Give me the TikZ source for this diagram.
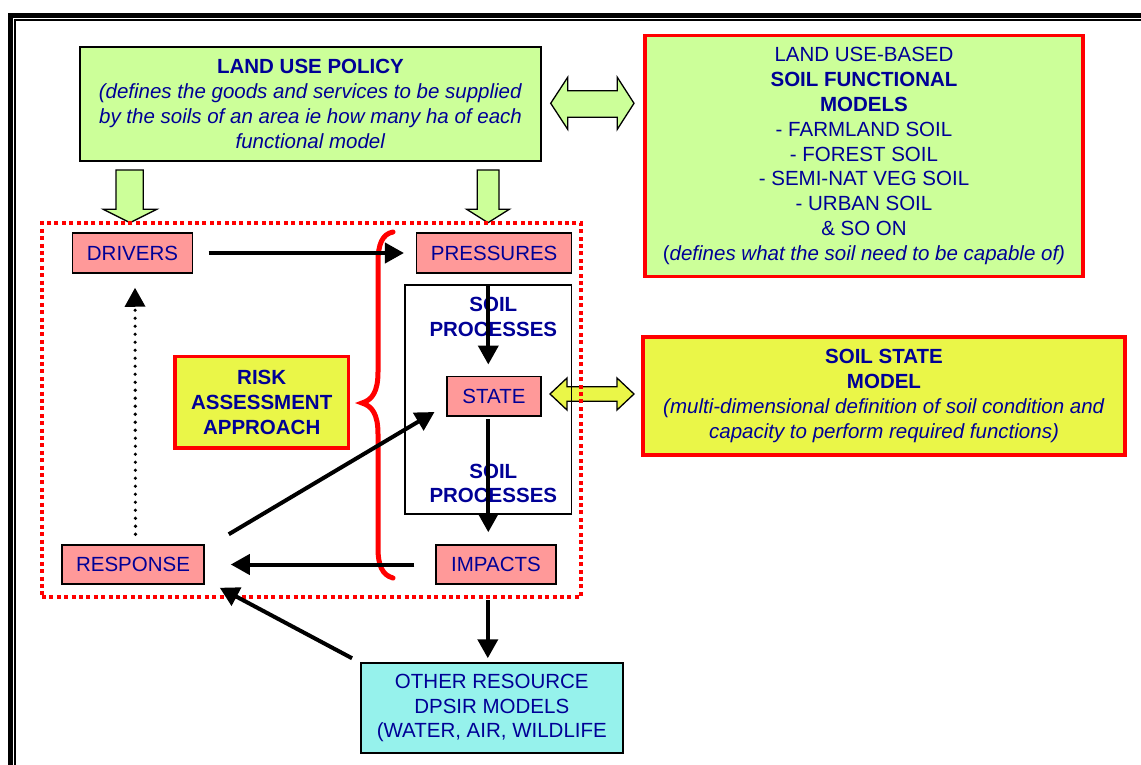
\documentclass[tikz,border=0pt]{standalone}
\usepackage{fontspec}
\setmainfont{Liberation Sans}
\usetikzlibrary{arrows.meta,calc}
\definecolor{txtblue}{RGB}{0,0,150}
\definecolor{limegreen}{RGB}{204,255,153}
\definecolor{pinkbox}{RGB}{255,153,153}
\definecolor{yellowbox}{RGB}{234,246,72}
\definecolor{cyanbox}{RGB}{150,242,236}

\begin{document}
\begin{tikzpicture}[x=1pt,y=-1pt,
  font=\fontsize{20.5}{24.8}\selectfont, text=txtblue,
  boldtext/.style={font=\fontsize{20.5}{24.8}\selectfont\bfseries},
  plainbox/.style={draw=black, line width=1.5pt, inner sep=0pt, align=center},
  dpsir/.style={plainbox, fill=pinkbox},
  redbox/.style={draw=red, line width=3.5pt, inner sep=0pt, align=center},
  arr/.style={line width=4pt, -{Triangle[width=20pt,length=19pt]}},
  dotarr/.style={line width=3.6pt, line cap=round, dash pattern=on 0pt off 8pt,
                 -{Triangle[width=20pt,length=19pt]}},
  blockarrow/.style={draw=black, line width=1.3pt, line join=miter},
  brace/.style={draw=red, line width=5pt, line cap=round},
]
\useasboundingbox (0,0) rectangle (1141,765);
\clip (0,0) rectangle (1141,765);

% page frame (runs off the right and bottom edges)
\draw[line width=5pt] (10.8,15.8) rectangle (1300,900);
\draw[line width=1.5pt] (15,19.8) rectangle (1300,900);

% land use policy and functional models
\node[plainbox, fill=limegreen, minimum width=461pt, minimum height=114pt] (policy) at (310.5,104)
  {\textbf{LAND USE POLICY}\\\textit{(defines the goods and services to be supplied}\\\textit{by the soils of an area ie how many ha of each}\\\textit{functional model}};
\node[redbox, fill=limegreen, minimum width=438pt, minimum height=241pt] (funcmod) at (864,156)
  {LAND USE-BASED\\\textbf{SOIL FUNCTIONAL}\\\textbf{MODELS}\\- FARMLAND SOIL\\- FOREST SOIL\\- SEMI-NAT VEG SOIL\\- URBAN SOIL\\\& SO ON\\(\textit{defines what the soil need to be capable of)}};

% two-way block arrow between policy and functional models
\filldraw[blockarrow, fill=limegreen]
  (550.7,103.3) -- (567.7,77.3) -- (567.7,90.7) -- (617.3,90.7) -- (617.3,77.3) -- (634,103.3)
  -- (617.3,129.3) -- (617.3,117.3) -- (567.7,117.3) -- (567.7,129.3) -- cycle;

% block arrows from policy down into the DPSIR frame
\filldraw[blockarrow, fill=limegreen]
  (116,170) -- (143.3,170) -- (143.3,209.3) -- (156.7,209.3) -- (130,222.7) -- (103.3,209.3) -- (116,209.3) -- cycle;
\filldraw[blockarrow, fill=limegreen]
  (477.3,170) -- (499,170) -- (499,209.3) -- (509.3,209.3) -- (488,222.7) -- (466.7,209.3) -- (477.3,209.3) -- cycle;

% two-way block arrow between state and soil state model
\filldraw[blockarrow, fill=yellowbox]
  (550,394) -- (567,378) -- (567,386.7) -- (617,386.7) -- (617,378) -- (634,394)
  -- (617,410) -- (617,401.3) -- (567,401.3) -- (567,410) -- cycle;

% soil process column
\node[plainbox, minimum width=166.7pt, minimum height=229pt] (soilbox) at (488.3,399.5) {};
\node[boldtext, align=center, inner sep=0pt] (sp1) at (493.3,317) {SOIL\\PROCESSES};
\node[boldtext, align=center, inner sep=0pt] (sp2) at (493.3,483.5) {SOIL\\PROCESSES};

% risk assessment frame
\node[draw=red, line width=4pt, dash pattern=on 4pt off 3.4pt, inner sep=0pt,
      minimum width=539pt, minimum height=374pt] (zone) at (311.5,410) {};

% DPSIR boxes
\node[dpsir, minimum width=120pt, minimum height=40pt] (drivers) at (132.5,253) {DRIVERS};
\node[dpsir, minimum width=155pt, minimum height=40pt] (pressures) at (494.2,253) {PRESSURES};
\node[dpsir, minimum width=94pt, minimum height=39.5pt] (state) at (494,396) {STATE};
\node[dpsir, minimum width=120pt, minimum height=39pt] (impacts) at (496,564.5) {IMPACTS};
\node[dpsir, minimum width=142pt, minimum height=39pt] (response) at (133,564.5) {RESPONSE};

\node[redbox, boldtext, fill=yellowbox, minimum width=173.5pt, minimum height=91.5pt] (risk) at (261.7,402.3)
  {RISK\\ASSESSMENT\\APPROACH};

\node[redbox, fill=yellowbox, minimum width=482pt, minimum height=118pt] (statemodel) at (884,396)
  {\textbf{SOIL STATE}\\\textbf{MODEL}\\\textit{(multi-dimensional definition of soil condition and}\\\textit{capacity to perform required functions)}};

\node[plainbox, fill=cyanbox, minimum width=262pt, minimum height=90pt] (other) at (491.8,708)
  {OTHER RESOURCE\\DPSIR MODELS\\(WATER, AIR, WILDLIFE};

% brace grouping pressures, state and impacts
\draw[brace] (393,232) .. controls (382,234) and (378,245) .. (378,262) -- (378,372)
  .. controls (378,392) and (372,400) .. (362,403)
  .. controls (372,406) and (378,414) .. (378,434) -- (378,548)
  .. controls (378,565) and (382,575) .. (393,578);

% connectors
\draw[arr, shorten <=15.4pt, shorten >=12pt] (drivers.east) -- (drivers.east -| pressures.west);
\draw[arr, shorten >=11pt] (soilbox.north) -- (soilbox.north |- state.north);
\draw[arr, shorten <=2.5pt, shorten >=12pt] (soilbox.north |- state.south) -- (soilbox.north |- impacts.north);
\draw[arr, shorten <=21pt, shorten >=26pt] (impacts.west) -- (impacts.west -| response.east);
\draw[dotarr, shorten <=10pt, shorten >=14pt] ([xshift=2.5pt]response.north) -- ([xshift=2.5pt]drivers.south);
\draw[arr] ([shift={(24pt,10pt)}]response.north east) -- ([shift={(-11.7pt,4.5pt)}]state.south west);
\draw[arr] ([shift={(-8pt,4pt)}]other.north west) -- ([shift={(15pt,-3pt)}]response.south east);
\draw[arr, shorten <=1pt, shorten >=4pt] ($(other.north |- zone.south)+(-4pt,0)$) -- ($(other.north)+(-4pt,0)$);
\end{tikzpicture}
\end{document}
